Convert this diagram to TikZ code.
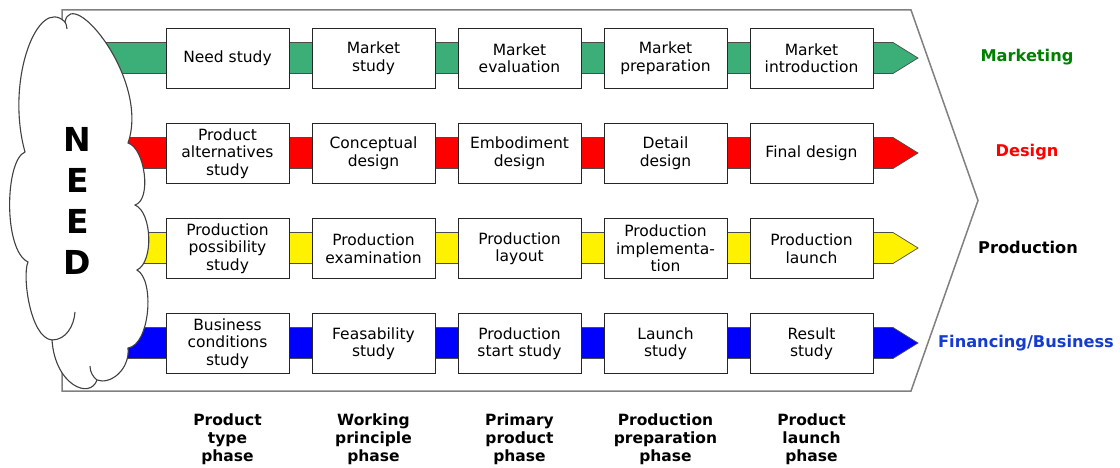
\documentclass[tikz,border=0pt]{standalone}
\usepackage{fontspec}
\setmainfont{DejaVu Sans}
\usetikzlibrary{calc}
\definecolor{bandgreen}{RGB}{60,174,120}
\definecolor{txtgreen}{RGB}{0,128,0}
\definecolor{txtblue}{RGB}{20,60,210}
\definecolor{edgegray}{RGB}{128,128,128}
\begin{document}
\begin{tikzpicture}[x=1pt,y=-1pt,
 stage/.style={draw=black!85, line width=0.9pt, fill=white, minimum width=123pt, minimum height=60.5pt, inner sep=0pt, align=center, font=\fontsize{15.5}{17.5}\selectfont},
 band/.style={draw=black!70, line width=0.7pt},
 lane/.style={font=\bfseries\fontsize{16.2}{19}\selectfont, inner sep=0pt},
 phase/.style={font=\bfseries\fontsize{15.5}{18}\selectfont, align=center, anchor=north, inner sep=0pt},
 cloudline/.style={draw=black!75, line width=1.1pt}]

\useasboundingbox (0,0) rectangle (1120,468);
\fill[white] (0,0) rectangle (1120,468);

% outer pentagon
\draw[edgegray, line width=1.5pt, line join=miter] (62,10) -- (911,10) -- (978,200.5) -- (911,391) -- (62,391) -- cycle;

% bands
\foreach \yc/\c/\i in {58/bandgreen/1, 153/red/2, 248/yellow/3, 343/blue/4} {
  \coordinate (s\i) at (90,\yc);
  \coordinate (t\i) at (918,\yc);
  \filldraw[band, fill=\c] ($(s\i)+(0,-15.5)$) -- ($(t\i)+(-25,-15.5)$) -- (t\i) -- ($(t\i)+(-25,15.5)$) -- ($(s\i)+(0,15.5)$) -- cycle;
}

% boxes row 1
\foreach \k/\t in {0/{Need study},1/{Market\\study},2/{Market\\evaluation},3/{Market\\preparation},4/{Market\\introduction}}
  \node[stage] (m\k) at (227.5+146*\k,58.25) {\t};
% row 2
\foreach \k/\t in {0/{Product\\alternatives\\study},1/{Conceptual\\design},2/{Embodiment\\design},3/{Detail\\design},4/{Final design}}
  \node[stage] (d\k) at (227.5+146*\k,153.25) {\t};
% row 3
\foreach \k/\t in {0/{Production\\possibility\\study},1/{Production\\examination},2/{Production\\layout},3/{Production\\implementa-\\tion},4/{Production\\launch}}
  \node[stage] (p\k) at (227.5+146*\k,248.5) {\t};
% row 4
\foreach \k/\t in {0/{Business\\conditions\\study},1/{Feasability\\study},2/{Production\\start study},3/{Launch\\study},4/{Result\\study}}
  \node[stage] (f\k) at (227.5+146*\k,343.5) {\t};

% lane labels
\node[lane, text=txtgreen] (lm) at (1027,57) {Marketing};
\node[lane, text=red] (ld) at (1027,152.5) {Design};
\node[lane, text=black] (lp) at (1028,247) {Production};
\node[lane, text=txtblue] (lf) at (1026,343) {Financing/Business};

% phase labels
\node[phase] (ph0) at (227.5,414) {Product\\type\\phase};
\node[phase] (ph1) at (373.5,414) {Working\\principle\\phase};
\node[phase] (ph2) at (519.5,414) {Primary\\product\\phase};
\node[phase] (ph3) at (665.5,414) {Production\\preparation\\phase};
\node[phase] (ph4) at (811.5,414) {Product\\launch\\phase};

% cloud
\path[cloudline, fill=white, line join=miter] (25,152) .. controls (5,80) and (38,-5) .. (65,22)
 .. controls (72,-15) and (150,80) .. (128,143)
 .. controls (145,148) and (152,200) .. (135,205)
 .. controls (152,212) and (154,262) .. (137,270)
 .. controls (155,280) and (150,345) .. (128,348)
 .. controls (130,370) and (110,385) .. (97,380)
 .. controls (90,400) and (55,385) .. (52,340)
 .. controls (30,338) and (22,275) .. (28,262)
 .. controls (3,250) and (5,160) .. (25,152) -- cycle;
\draw[cloudline] (52,340) .. controls (66,340) and (74,326) .. (75,312);
\draw[cloudline] (97,380) .. controls (93,377) and (90,372) .. (90,366);
\draw[cloudline] (65,22) .. controls (66,24) and (67,26) .. (67,29);

\node[font=\bfseries\fontsize{33}{41.3}\selectfont, align=center, inner sep=0pt] (need) at (77.5,201) {N\\E\\E\\D};
\end{tikzpicture}
\end{document}
